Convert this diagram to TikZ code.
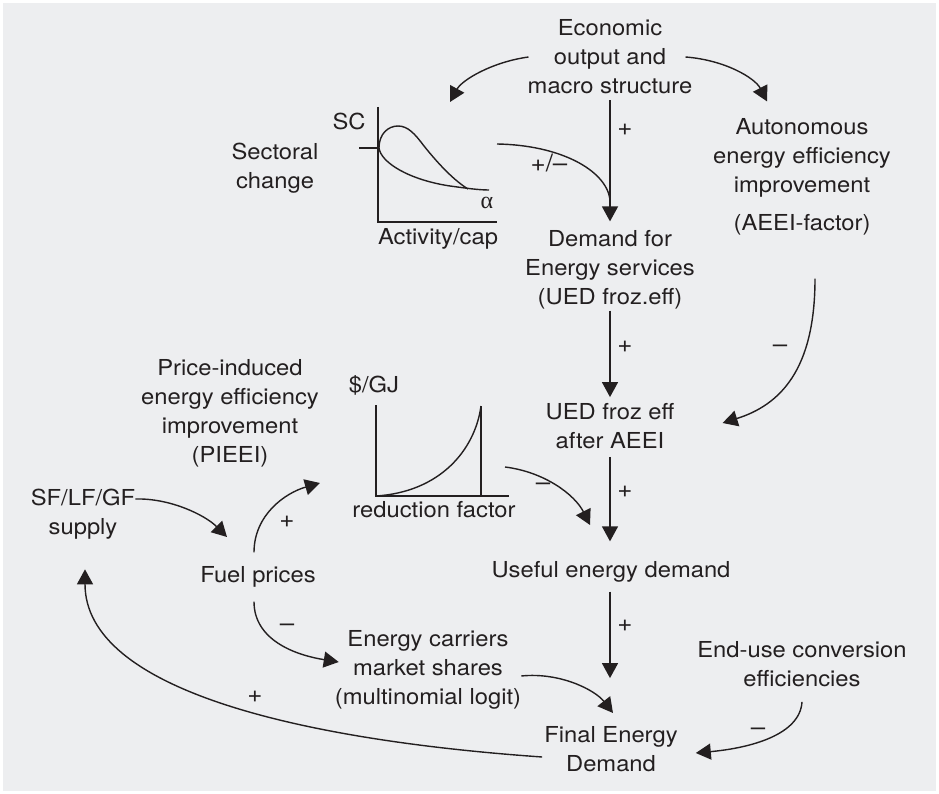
\documentclass[tikz,border=0pt]{standalone}
\usepackage{fontspec}
\newfontfamily\hel{TeX Gyre Heros}[FakeStretch=1.08]
\newfontfamily\ser{Liberation Serif}
\usetikzlibrary{arrows.meta,calc}
\definecolor{ink}{HTML}{231F20}
\definecolor{bgc}{HTML}{EDEEF0}
\begin{document}
\begin{tikzpicture}[x=1pt,y=-1pt,
  txt/.style={font=\hel\fontsize{22}{29}\selectfont, text=ink, align=center, inner sep=0pt},
  lbl/.style={font=\hel\fontsize{24}{29}\selectfont, text=ink, inner sep=0pt},
  arr/.style={draw=ink, line width=1.4pt, -{Triangle[length=15pt,width=16pt]}},
  ln/.style={draw=ink, line width=1.4pt}]
\useasboundingbox (0,0) rectangle (939,794);
\fill[white] (0,0) rectangle (939,794);
\fill[bgc] (3,3) rectangle (936,791);

% ---- text nodes ----
\node[txt] (econ) at (610,57) {Economic\\output and\\macro structure};
\node[txt] (auto) at (802,158) {Autonomous\\energy efficiency\\improvement};
\node[txt] (aeei) at (802,225) {(AEEI-factor)};
\node[txt] (sect) at (275,168) {Sectoral\\change};
\node[txt] (sc) at (349,121) {SC};
\node[txt] (demand) at (610,270) {Demand for\\Energy services\\(UED froz.eff)};
\node[txt] (ued) at (610,426) {UED froz eff\\after AEEI};
\node[txt] (useful) at (611,572) {Useful energy demand};
\node[txt] (final) at (611,749) {Final Energy\\Demand};
\node[txt] (enduse) at (802,664) {End-use conversion\\efficiencies};
\node[txt] (carriers) at (428,670) {Energy carriers\\market shares\\(multinomial logit)};
\node[txt] (fuel) at (258,577) {Fuel prices};
\node[txt] (sf) at (83,514) {SF/LF/GF\\supply};
\node[txt] (pieei) at (230,413) {Price-induced\\energy efficiency\\improvement\\(PIEEI)};
\node[txt] (gj) at (374,385) {\$/GJ};
\node[txt] (redf) at (434,510) {reduction factor};
\node[txt] (actcap) at (438,239) {Activity/cap};
\node[txt, font=\ser\fontsize{24}{29}\selectfont] (alpha) at (487,203) {α};

% ---- sectoral change graph ----
\coordinate (g1top) at (378,107);
\coordinate (g1org) at (378,222);
\coordinate (g1end) at (497,222);
\coordinate (g1out) at (497,144);
\draw[ln] (g1top) -- (g1org) -- (g1end);
\draw[ln] (359,148) -- (378,148);
\draw[ln] (379,148) .. controls (379,134) and (388,126) .. (398,126)
  .. controls (408,126) and (415,134) .. (424,146)
  .. controls (440,166) and (455,181) .. (468,189);
\draw[ln] (379,148) .. controls (381,163) and (410,180) .. (450,186)
  .. controls (465,188) and (478,190) .. (489,190);

% ---- PIEEI graph ----
\coordinate (g2top) at (376,405);
\coordinate (g2org) at (376,496);
\coordinate (g2end) at (509,496);
\coordinate (g2in) at (320,483);
\coordinate (g2out) at (505,467);
\draw[ln] (g2top) -- (g2org) -- (g2end);
\draw[ln] (481,406) -- (481,496);
\draw[ln] (376,496) .. controls (440,492) and (475,450) .. (481,406);

% ---- connectors ----
\coordinate (scin) at (450,102);
\draw[arr] ($(econ.west)+(1,0)$) .. controls (492,62) and (462,80) .. (scin);
\draw[arr] ($(econ.east)+(-7,0)$) .. controls (725,60) and (755,78) .. ($(auto.north)+(-35,-17)$);
\draw[arr] ($(econ.south)+(0,6)$) -- ($(demand.north)+(0,-9)$);
\draw[ln] (g1out) .. controls (560,145) and (606,170) .. ($(demand.north)+(0,-31)$);
\node[lbl] (p1) at (625,130) {+};
\node[lbl] (pm1) at (549,163) {+/–};

\draw[arr] ($(demand.south)+(0,1)$) -- ($(ued.north)+(0,-6)$);
\node[lbl] (p2) at (625,347) {+};
\draw[arr] ($(aeei.south)+(13,43)$) .. controls (815,370) and (780,405) .. ($(ued.east)+(48,-3)$);
\node[lbl] (m1) at (780,349) {–};

\draw[arr] ($(ued.south)+(0,8)$) -- ($(useful.north)+(-1,-20)$);
\node[lbl] (p3) at (625,492) {+};
\draw[arr] (g2out) .. controls (545,472) and (575,495) .. (590,525);
\node[lbl] (m2) at (543,487) {–};

\draw[arr] ($(useful.south)+(-1,9)$) -- ($(final.north)+(-1,-48)$);
\node[lbl] (p4) at (625,626) {+};
\draw[arr] ($(carriers.east)+(0,6)$) .. controls (560,672) and (595,690) .. (613,713);
\draw[arr] ($(enduse.south)+(0,15)$) .. controls (800,735) and (750,748) .. ($(final.east)+(18,4)$);
\node[lbl] (m3) at (758,732) {–};

\draw[arr] ($(final.west)+(-2,8)$) .. controls (300,740) and (85,690) .. ($(sf.south)+(2,30)$);
\node[lbl] (p5) at (255,697) {+};
\draw[arr] ($(sf.east)+(0,-15)$) .. controls (170,498) and (205,515) .. (227,537);
\draw[arr] ($(fuel.north)+(-4,-14)$) .. controls (254,515) and (285,493) .. (g2in);
\node[lbl] (p6) at (287,522) {+};
\draw[arr] ($(fuel.south)+(-4,14)$) .. controls (254,640) and (295,655) .. ($(carriers.west)+(4,-8)$);
\node[lbl] (m4) at (287,628) {–};
\end{tikzpicture}
\end{document}
